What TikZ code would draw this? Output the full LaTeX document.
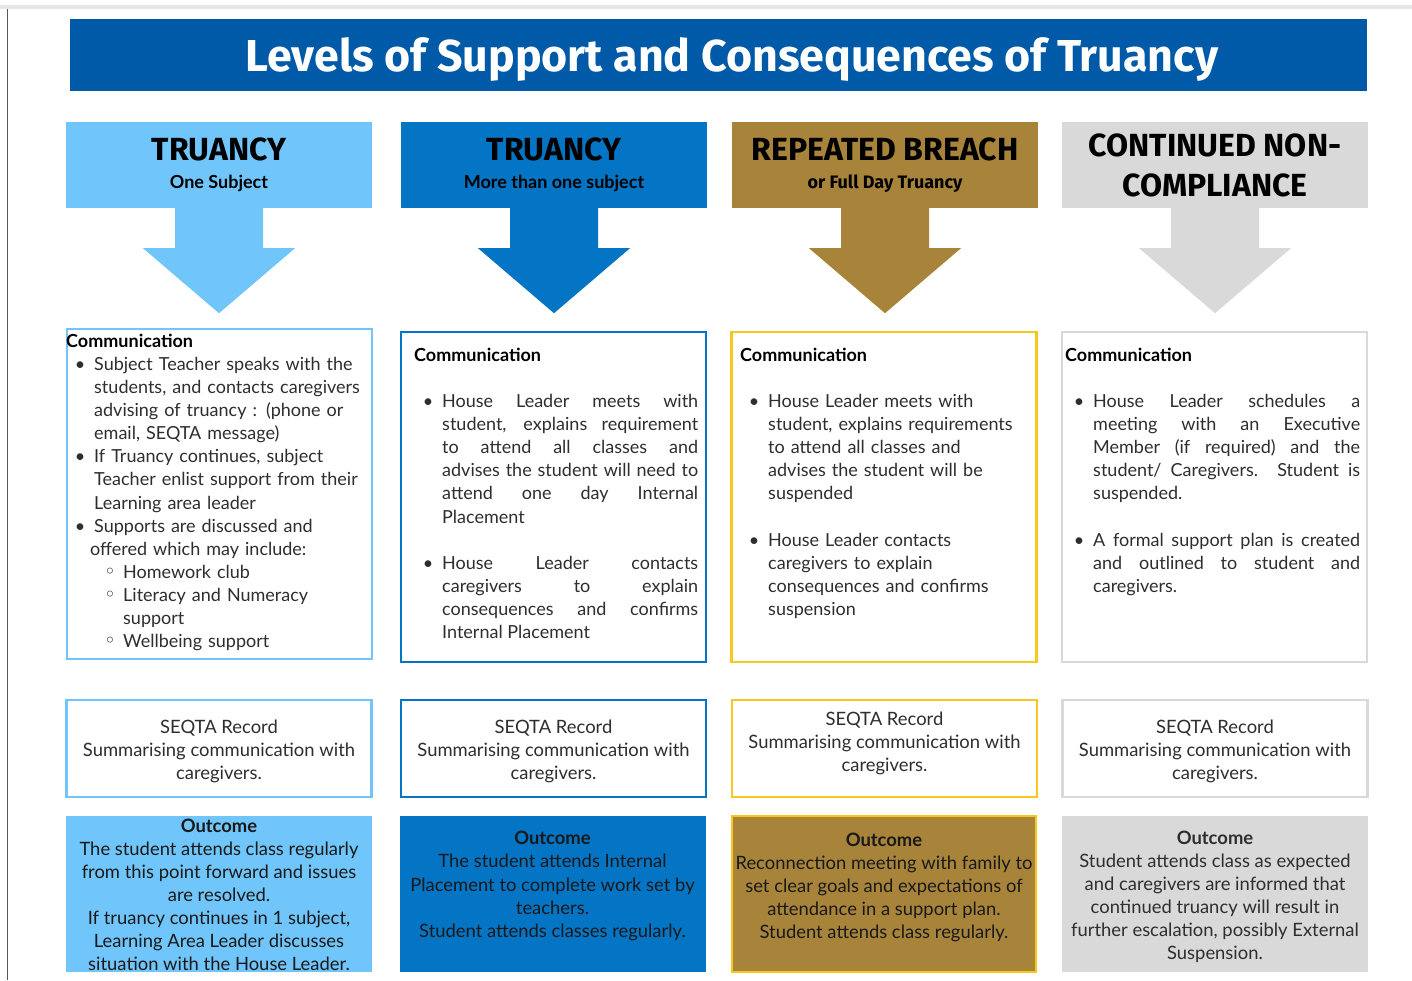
\documentclass[tikz,border=0pt]{standalone}
\usepackage{fontspec}
\setmainfont{Lato}
\newfontfamily\headfont{Fira Sans}
\newfontfamily\dejavu{DejaVu Sans}
\usetikzlibrary{positioning}

\definecolor{titleblue}{HTML}{005AA7}
\definecolor{skyblue}{HTML}{70C5FB}
\definecolor{midblue}{HTML}{0474C4}
\definecolor{ochre}{HTML}{A8843A}
\definecolor{paleGrey}{HTML}{D9D9D9}
\definecolor{sunYellow}{HTML}{F8C81F}
\definecolor{bodytext}{HTML}{2E2E2E}
\definecolor{stripGrey}{HTML}{E4E7E7}

\tolerance=10000
\hyphenpenalty=10000

% bullet and sub-bullet lines with a hanging indent
\newcommand{\bul}[1][28pt]{\par\noindent\hangindent=#1\hangafter=1\makebox[28pt][c]{\textbullet}\ignorespaces}
\newcommand{\subbul}{\par\noindent\hangindent=57pt\hangafter=1\makebox[57pt][l]{\hspace{38pt}{\dejavu\fontsize{20}{20}\selectfont ◦}}\ignorespaces}
\newcommand{\gap}{\par\vspace{23.1pt}}

\tikzstyle{title bar}=[fill=titleblue, minimum width=1297pt, minimum height=72pt, inner sep=0, text depth=0pt, text=white, font=\headfont\bfseries\fontsize{44.7}{50}\selectfont]
\tikzstyle{heading}=[minimum width=306pt, minimum height=86pt, inner sep=0, align=center, text=black, font=\headfont\bfseries\fontsize{32}{40}\selectfont]
\tikzstyle{comm box}=[draw, line width=2.5pt, minimum width=305pt, minimum height=330pt]
\tikzstyle{comm text}=[anchor=north west, inner sep=0, text=bodytext, font=\fontsize{18}{23.1}\selectfont]
\tikzstyle{record box}=[draw, line width=2.5pt, minimum width=305pt, minimum height=97pt]
\tikzstyle{outcome box}=[minimum width=306pt, minimum height=156pt]
\tikzstyle{box text}=[align=center, inner sep=0, text=bodytext, font=\fontsize{18.4}{23.1}\selectfont]

\begin{document}
\begin{tikzpicture}[x=1pt, y=-1pt]
  \useasboundingbox (0,0) rectangle (1412,980);
  \fill[white] (0,0) rectangle (1412,980);
  \fill[stripGrey] (0,5) rectangle (1412,9);
  \draw[black!65, line width=1pt] (7,9) -- (7,980);

  \node[title bar] (title) at (718.5,55) {\hspace*{27pt}Levels of Support and Consequences of Truancy};

  % level headings
  \node[heading, fill=skyblue] (head1) at (219,165) {TRUANCY\\[-12pt]{\fontsize{18}{20}\selectfont\rmfamily\bfseries One Subject}};
  \node[heading, fill=midblue] (head2) at (554,165) {TRUANCY\\[-12pt]{\fontsize{18}{20}\selectfont\rmfamily\bfseries More than one subject}};
  \node[heading, fill=ochre] (head3) at (885,165) {REPEATED BREACH\\[-12pt]{\fontsize{18}{20}\selectfont or Full Day Truancy}};
  \node[heading, fill=paleGrey] (head4) at (1215,165) {CONTINUED NON-\\COMPLIANCE};

  % down arrows under the headings
  \fill[skyblue] ([xshift=-44pt, yshift=1pt]head1.south) -- ++(0,41) -- ++(-32,0) -- ++(76,65) -- ++(76,-65) -- ++(-32,0) -- ++(0,-41) -- cycle;
  \fill[midblue] ([xshift=-44pt, yshift=1pt]head2.south) -- ++(0,41) -- ++(-32,0) -- ++(76,65) -- ++(76,-65) -- ++(-32,0) -- ++(0,-41) -- cycle;
  \fill[ochre] ([xshift=-44pt, yshift=1pt]head3.south) -- ++(0,41) -- ++(-32,0) -- ++(76,65) -- ++(76,-65) -- ++(-32,0) -- ++(0,-41) -- cycle;
  \fill[paleGrey] ([xshift=-44pt, yshift=1pt]head4.south) -- ++(0,41) -- ++(-32,0) -- ++(76,65) -- ++(76,-65) -- ++(-32,0) -- ++(0,-41) -- cycle;

  % communication boxes
  \node[comm box, draw=skyblue] (comm1) at (219.5,494) {};
  \node[comm box, draw=midblue] (comm2) at (553.5,497) {};
  \node[comm box, draw=sunYellow] (comm3) at (884,497) {};
  \node[comm box, draw=paleGrey] (comm4) at (1214.5,497) {};

  \node[comm text, text width=304pt, align=left] (commtext1) at (66,331) {\strut{\color{black}\bfseries Communication}
    \bul Subject Teacher speaks with the\newline students, and contacts caregivers\newline advising of truancy : (phone or\newline email, SEQTA message)
    \bul If Truancy continues, subject\newline Teacher enlist support from their\newline Learning area leader
    \bul[24pt] Supports are discussed and\newline offered which may include:
    \subbul Homework club
    \subbul Literacy and Numeracy\newline support
    \subbul Wellbeing support\par};
  \node[comm text, text width=284pt, align=justify] (commtext2) at (414,345) {\strut{\color{black}\bfseries Communication}\gap
    \bul House Leader meets with\linebreak student, explains requirement\linebreak to attend all classes and\linebreak advises the student will need to\linebreak attend one day Internal\linebreak Placement\gap
    \bul House Leader contacts\linebreak caregivers to explain\linebreak consequences and confirms\linebreak Internal Placement\par};
  \node[comm text, text width=292pt, align=left] (commtext3) at (740,345) {\strut{\color{black}\bfseries Communication}\gap
    \bul House Leader meets with\newline student, explains requirements\newline to attend all classes and\newline advises the student will be\newline suspended\gap
    \bul House Leader contacts\newline caregivers to explain\newline consequences and confirms\newline suspension\par};
  \node[comm text, text width=295pt, align=justify] (commtext4) at (1065,345) {\strut{\color{black}\bfseries Communication}\gap
    \bul House Leader schedules a\linebreak meeting with an Executive\linebreak Member (if required) and the\linebreak student/ Caregivers. Student is\linebreak suspended.\gap
    \bul A formal support plan is created\linebreak and outlined to student and\linebreak caregivers.\par};

  % SEQTA record boxes
  \node[record box, draw=skyblue] (rec1) at (219,748.5) {};
  \node[record box, draw=midblue] (rec2) at (553.5,748.5) {};
  \node[record box, draw=sunYellow] (rec3) at (884.5,748.5) {};
  \node[record box, draw=paleGrey] (rec4) at (1215,748.5) {};
  \node[box text] (rectext1) at ([yshift=-3pt]rec1.center) {SEQTA Record\\Summarising communication with\\caregivers.};
  \node[box text] (rectext2) at ([yshift=-3pt]rec2.center) {SEQTA Record\\Summarising communication with\\caregivers.};
  \node[box text] (rectext3) at ([yshift=5pt]rec3.center) {SEQTA Record\\Summarising communication with\\caregivers.};
  \node[box text] (rectext4) at ([yshift=-3pt]rec4.center) {SEQTA Record\\Summarising communication with\\caregivers.};

  % outcome boxes
  \node[outcome box, fill=skyblue] (out1) at (219,894) {};
  \node[outcome box, fill=midblue] (out2) at (552.5,894) {};
  \node[outcome box, fill=ochre, draw=sunYellow, line width=2.5pt, minimum width=304pt] (out3) at (884,894) {};
  \node[outcome box, fill=paleGrey] (out4) at (1215,894) {};
  \node[box text, text=black!90] (outtext1) at ([yshift=-1pt]out1.center) {\textbf{Outcome}\\The student attends class regularly\\from this point forward and issues\\are resolved.\\If truancy continues in 1 subject,\\Learning Area Leader discusses\\situation with the House Leader.};
  \node[box text, text=black!90] (outtext2) at ([yshift=8pt]out2.center) {\textbf{Outcome}\\The student attends Internal\\Placement to complete work set by\\teachers.\\Student attends classes regularly.};
  \node[box text, text=black!90] (outtext3) at ([yshift=6.5pt]out3.center) {\textbf{Outcome}\\Reconnection meeting with family to\\set clear goals and expectations of\\attendance in a support plan.\\Student attends class regularly.};
  \node[box text] (outtext4) at ([yshift=-3pt]out4.center) {\textbf{Outcome}\\Student attends class as expected\\and caregivers are informed that\\continued truancy will result in\\further escalation, possibly External\\Suspension.};
\end{tikzpicture}
\end{document}
